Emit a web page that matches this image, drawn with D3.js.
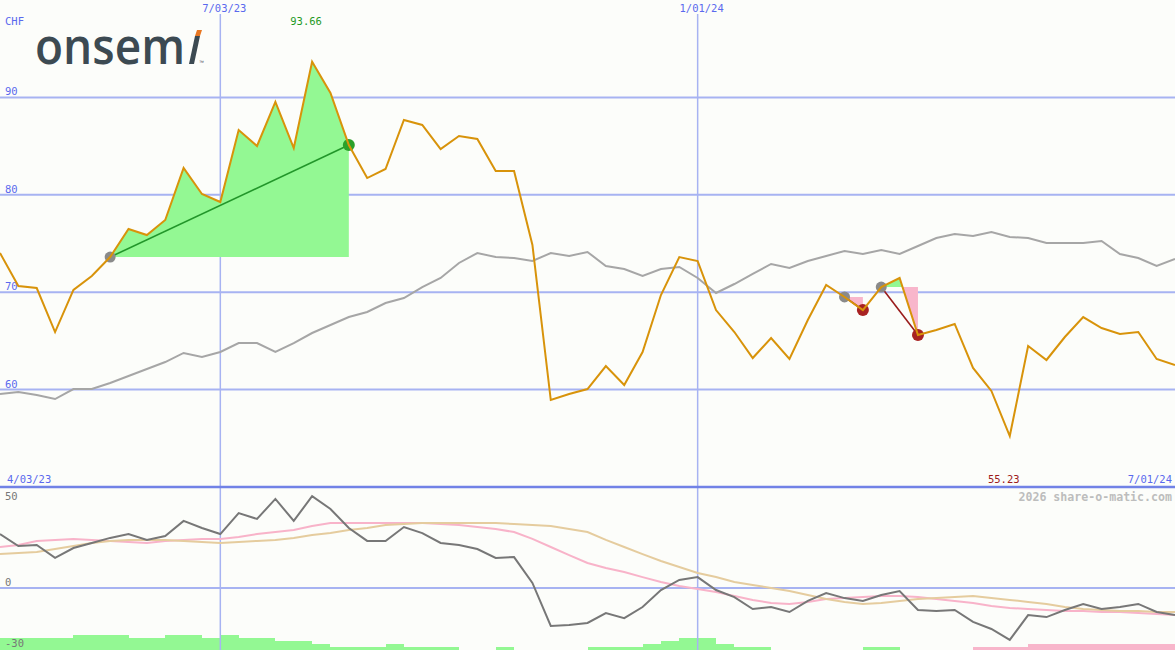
<!DOCTYPE html>
<html><head><meta charset="utf-8">
<script src="https://cdnjs.cloudflare.com/ajax/libs/d3/7.8.5/d3.min.js"></script>
<style>html,body{margin:0;padding:0;background:#fcfdfa;overflow:hidden}</style>
</head><body><svg id="c" width="1175" height="650"></svg>
<script>
// ---- data (weekly closes, CHF) ----
const priceValues = [74.02,70.64,70.43,65.91,70.23,71.66,73.61,76.49,75.87,77.41,82.75,80.08,79.26,86.65,85.01,89.53,84.80,93.66,90.45,85.11,81.72,82.65,87.68,87.17,84.70,86.04,85.73,82.44,82.44,74.85,58.93,59.55,60.06,62.42,60.47,63.86,69.71,73.61,73.20,68.17,65.91,63.24,65.30,63.14,67.15,70.74,69.51,68.17,70.53,71.46,65.61,66.12,66.74,62.22,59.86,55.23,64.48,63.04,65.40,67.45,66.32,65.71,65.91,63.14,62.53];
const indexValues = [59.55,59.75,59.45,59.03,60.06,60.06,60.68,61.40,62.11,62.83,63.76,63.35,63.86,64.78,64.78,63.86,64.78,65.81,66.63,67.45,67.97,68.89,69.40,70.53,71.46,73.00,74.02,73.61,73.51,73.20,74.02,73.72,74.13,72.69,72.38,71.66,72.38,72.59,71.46,69.92,70.84,71.87,72.90,72.48,73.20,73.72,74.23,73.92,74.33,73.92,74.74,75.56,75.98,75.77,76.18,75.67,75.56,75.05,75.05,75.05,75.26,73.92,73.51,72.69,73.41];
const oscValues = [26.7,20.8,21.3,14.9,19.8,22.3,24.8,26.7,23.8,25.7,33.2,29.7,26.7,37.1,34.2,44.1,33.2,45.5,39.1,29.7,23.3,23.3,30.2,27.2,22.3,21.3,19.3,14.9,15.3,2.5,-18.8,-18.3,-17.3,-12.4,-14.9,-9.4,-1.0,4.0,5.4,-1.0,-4.5,-10.4,-9.4,-11.9,-6.4,-2.5,-5.0,-6.4,-3.5,-1.5,-10.9,-11.4,-10.9,-16.8,-20.3,-25.7,-13.4,-14.4,-10.9,-7.9,-10.4,-9.4,-7.9,-11.9,-13.4];
const maFastValues = [20.3,21.3,23.3,23.8,24.3,23.8,23.3,22.8,22.3,23.3,23.8,24.3,24.3,25.2,26.7,27.7,28.7,30.7,32.2,32.2,32.2,32.2,32.2,32.2,31.7,31.2,30.2,29.2,27.7,24.3,20.3,16.3,12.4,9.9,7.9,5.4,3.0,1.0,-0.5,-2.0,-4.0,-5.9,-7.4,-7.9,-6.9,-5.4,-5.0,-4.5,-4.0,-4.0,-4.5,-5.4,-6.4,-7.4,-8.9,-9.9,-10.4,-10.9,-11.4,-11.4,-11.9,-11.9,-12.4,-12.9,-13.4];
const maSlowValues = [16.8,17.3,17.8,19.3,20.8,22.3,23.3,23.8,23.8,23.8,23.3,22.8,22.3,22.8,23.3,23.8,24.8,26.2,27.2,28.7,29.7,31.2,31.7,32.2,32.2,32.2,32.2,32.2,31.7,31.2,30.7,29.2,27.7,23.8,20.3,16.8,13.4,10.4,7.4,5.4,3.0,1.5,0.0,-1.5,-3.5,-5.4,-6.9,-7.9,-7.4,-6.4,-5.4,-5.0,-4.5,-4.0,-5.0,-5.9,-6.9,-7.9,-9.4,-10.4,-10.9,-11.4,-11.4,-11.9,-11.9];
const volumeBars = [4,4,4,4,5,5,5,4,4,5,5,4,5,4,4,3,3,2,1,1,1,2,1,1,1,0,0,1,0,0,0,0,1,1,1,2,3,4,4,2,1,1,0,0,0,0,0,1,1,0,0,0,0,-1,-1,-1,-2,-2,-2,-2,-2,-2,-2,-2];
const firstWeek = "2023-04-10";
const mainTicks = [90, 80, 70, 60];
const lowerTicks = [50, 0, -30];
const dateLines = ["2023-07-03", "2024-01-01"];
const dateLineLabels = ["7/03/23", "1/01/24"];
const trades = [{from: 6, to: 19, win: true}, {from: 46, to: 47, win: false}, {from: 48, to: 50, win: false}];

// ---- setup ----
const W = 1175, H = 650;
const svg = d3.select("#c");
const parse = d3.timeParse("%Y-%m-%d");
const start = parse(firstWeek);
const dates = priceValues.map((_, i) => d3.timeDay.offset(start, 7 * i));

const x = d3.scaleTime().domain([dates[0], dates[dates.length - 1]]).range([0, W]);
const y = d3.scaleLinear().domain([50, 100]).range([487, 0]);
const yl = d3.scaleLinear().domain([-30, 50]).range([648.6, 487]);
const barH = d3.scaleLinear().domain([0, 5]).range([0, 15]);

svg.append("rect").attr("width", W).attr("height", H).attr("fill", "#fcfdfa");

const gridCol = "#a7b3f2", labCol = "#5a69ee";
const mono = "'DejaVu Sans Mono', monospace";

// volume bars
svg.append("g").selectAll("rect").data(volumeBars).join("rect")
  .attr("x", (d, i) => x(dates[i]))
  .attr("width", (d, i) => x(dates[i + 1]) - x(dates[i]))
  .attr("y", d => H - barH(Math.abs(d)))
  .attr("height", d => barH(Math.abs(d)))
  .attr("fill", d => d >= 0 ? "#93f893" : "#f8b6cb")
  .attr("shape-rendering", "crispEdges");

// grid
svg.append("g").selectAll("line").data(mainTicks).join("line")
  .attr("x1", 0).attr("x2", W).attr("y1", d => y(d)).attr("y2", d => y(d))
  .attr("stroke", gridCol).attr("stroke-width", 2);
svg.append("line").attr("x1", 0).attr("x2", W).attr("y1", yl(0)).attr("y2", yl(0))
  .attr("stroke", gridCol).attr("stroke-width", 2);
svg.append("g").selectAll("line").data(dateLines).join("line")
  .attr("x1", d => x(parse(d))).attr("x2", d => x(parse(d)))
  .attr("y1", 14).attr("y2", H)
  .attr("stroke", gridCol).attr("stroke-width", 1.5);
svg.append("line").attr("x1", 0).attr("x2", W).attr("y1", y(50)).attr("y2", y(50))
  .attr("stroke", "#7182e6").attr("stroke-width", 2.5);

// labels
svg.append("g").selectAll("text").data(mainTicks).join("text")
  .attr("x", 5).attr("y", d => y(d) - 2).text(d => d)
  .attr("font-family", mono).attr("font-size", 10.5).attr("fill", labCol);
svg.append("text").attr("x", 5).attr("y", 25).text("CHF")
  .attr("font-family", mono).attr("font-size", 10.5).attr("fill", labCol);
svg.append("g").selectAll("text").data(dateLines).join("text")
  .attr("x", d => x(parse(d)) + 4).attr("y", 12).attr("text-anchor", "middle")
  .text((d, i) => dateLineLabels[i])
  .attr("font-family", mono).attr("font-size", 10.5).attr("fill", labCol);
svg.append("text").attr("x", 7).attr("y", 483).text("4/03/23")
  .attr("font-family", mono).attr("font-size", 10.5).attr("fill", labCol);
svg.append("text").attr("x", 1172).attr("y", 483).attr("text-anchor", "end").text("7/01/24")
  .attr("font-family", mono).attr("font-size", 10.5).attr("fill", labCol);
svg.append("g").selectAll("text").data(lowerTicks).join("text")
  .attr("x", 5).attr("y", d => d === 50 ? yl(d) + 13 : yl(d) - 2).text(d => d)
  .attr("font-family", mono).attr("font-size", 10.5).attr("fill", "#777");
svg.append("text").attr("x", 1172).attr("y", 501).attr("text-anchor", "end")
  .text("2026 share-o-matic.com")
  .attr("font-family", mono).attr("font-size", 11.6).attr("font-weight", "bold").attr("fill", "#bdbdbd");

// max / min labels
const iMax = d3.maxIndex(priceValues), iMin = d3.minIndex(priceValues);
svg.append("text").attr("x", x(dates[iMax]) - 6).attr("y", 25).attr("text-anchor", "middle")
  .text(priceValues[iMax].toFixed(2))
  .attr("font-family", mono).attr("font-size", 10.5).attr("fill", "#1f9a1f");
svg.append("text").attr("x", x(dates[iMin]) - 6).attr("y", 483).attr("text-anchor", "middle")
  .text(priceValues[iMin].toFixed(2))
  .attr("font-family", mono).attr("font-size", 10.5).attr("fill", "#9c1c1c");

// logo
const logo = svg.append("g");
logo.append("text").attr("x", 35).attr("y", 64).text("onsem")
  .attr("font-family", "'Open Sans', sans-serif").attr("font-size", 50).attr("font-weight", 600)
  .attr("fill", "#3c4a52").attr("textLength", 150).attr("lengthAdjust", "spacingAndGlyphs");
logo.append("path").attr("d", "M189,64 L195,36 L200,36 L194,64 Z").attr("fill", "#3c4a52");
logo.append("path").attr("d", "M195,36 L197,30 L202,30 L200,36 Z").attr("fill", "#e87722");
logo.append("text").attr("x", 199).attr("y", 64).text("™")
  .attr("font-family", "sans-serif").attr("font-size", 5).attr("fill", "#3c4a52");

// lower panel lines
const lowerLine = vals => d3.line().x((d, i) => x(dates[i])).y(d => yl(d))(vals);
svg.append("path").attr("d", lowerLine(maFastValues)).attr("fill", "none").attr("stroke", "#f8b3c9").attr("stroke-width", 2);
svg.append("path").attr("d", lowerLine(maSlowValues)).attr("fill", "none").attr("stroke", "#e5cc9e").attr("stroke-width", 2);
svg.append("path").attr("d", lowerLine(oscValues)).attr("fill", "none").attr("stroke", "#777").attr("stroke-width", 2);

// index line
const mainLine = d3.line().x((d, i) => x(dates[i])).y(d => y(d));
svg.append("path").attr("d", mainLine(indexValues)).attr("fill", "none").attr("stroke", "#a6a6a6").attr("stroke-width", 2);

// trade areas
const defs = svg.append("defs");
trades.forEach((t, k) => {
  const base = priceValues[t.from];
  const seg = d3.range(t.from, t.to + 1);
  const area = d3.area().x(i => x(dates[i])).y0(y(base)).y1(i => y(priceValues[i]))(seg);
  defs.append("clipPath").attr("id", "up" + k).append("rect")
    .attr("x", 0).attr("y", 0).attr("width", W).attr("height", y(base));
  defs.append("clipPath").attr("id", "dn" + k).append("rect")
    .attr("x", 0).attr("y", y(base)).attr("width", W).attr("height", 487 - y(base));
  svg.append("path").attr("d", area).attr("fill", "#93f893").attr("clip-path", `url(#up${k})`);
  svg.append("path").attr("d", area).attr("fill", "#f8b6cb").attr("clip-path", `url(#dn${k})`);
});

// trade lines and dots
trades.forEach(t => {
  const c = t.win ? "#22962a" : "#9a1c1c";
  svg.append("line")
    .attr("x1", x(dates[t.from])).attr("y1", y(priceValues[t.from]))
    .attr("x2", x(dates[t.to])).attr("y2", y(priceValues[t.to]))
    .attr("stroke", c).attr("stroke-width", 1.6);
  svg.append("circle").attr("cx", x(dates[t.from])).attr("cy", y(priceValues[t.from])).attr("r", 5.5).attr("fill", "#8a8a8a");
  svg.append("circle").attr("cx", x(dates[t.to])).attr("cy", y(priceValues[t.to])).attr("r", 6).attr("fill", t.win ? "#2aa02a" : "#a82222");
});

// price line
svg.append("path").attr("d", mainLine(priceValues)).attr("fill", "none").attr("stroke", "#d8930a").attr("stroke-width", 2);
</script></body></html>
